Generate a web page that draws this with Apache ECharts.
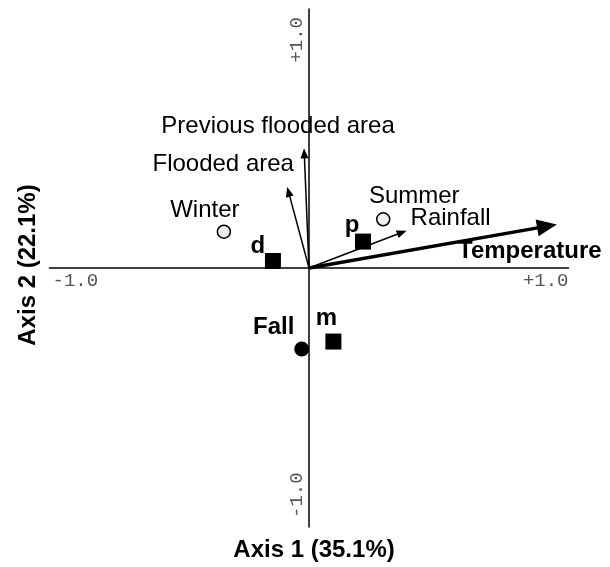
<!DOCTYPE html>
<html><head><meta charset="utf-8">
<script src="https://cdn.jsdelivr.net/npm/echarts@6/dist/echarts.min.js"></script>
<style>html,body{margin:0;padding:0;background:#fff}#c{width:610px;height:567px}</style>
</head><body><div id="c"></div>
<script>
// ---- data ----
const axisTitles = ['Axis 1 (35.1%)', 'Axis 2 (22.1%)'];
const tickValues = [-1, 1];
const tickLabels = ['-1.0', '+1.0'];

const siteNames = ['d', 'p', 'm'];
const siteX = [-0.139, 0.208, 0.094];
const siteY = [0.027, 0.102, -0.284];

const seasonNames = ['Winter', 'Summer', 'Fall'];
const seasonX = [-0.328, 0.286, -0.028];
const seasonY = [0.140, 0.188, -0.313];

const varNames = ['Temperature', 'Rainfall', 'Flooded area', 'Previous flooded area'];
const varX = [0.955, 0.376, -0.084, -0.019];
const varY = [0.168, 0.144, 0.313, 0.462];

// ---- styles ----
const SANS = '"Liberation Sans", Arial, Helvetica, sans-serif';
const MONO = '"Liberation Mono", "Courier New", monospace';
const FS = 24;
const siteLabelOffset = [[-15, -15], [-11, -16], [-7, -23]];
const seasonLabelOffset = [[-19, -21], [31, -23], [-28, -22]];
const seasonStyle = [
  {color: '#eeeeee', borderColor: '#000', borderWidth: 1.5, size: 13, bold: false},
  {color: '#eeeeee', borderColor: '#000', borderWidth: 1.5, size: 13, bold: false},
  {color: '#000', borderColor: '#000', borderWidth: 0, size: 15, bold: true}
];
const varLabelOffset = [[-27, 27], [44, -12], [-64, -23], [-26, -22]];
const varBold = [true, false, false, false];

const chart = echarts.init(document.getElementById('c'), null, {renderer: 'canvas'});

const option = {
  animation: false,
  backgroundColor: '#fff',
  grid: {left: 49.5, right: 41.5, top: 9, bottom: 40, containLabel: false},
  xAxis: {
    type: 'value', min: -1, max: 1,
    axisLine: {show: true, onZero: true, lineStyle: {color: '#000', width: 1.5}},
    axisTick: {show: false}, axisLabel: {show: false}, splitLine: {show: false}
  },
  yAxis: {
    type: 'value', min: -1, max: 1,
    axisLine: {show: true, onZero: true, lineStyle: {color: '#000', width: 1.5}},
    axisTick: {show: false}, axisLabel: {show: false}, splitLine: {show: false}
  },
  series: [
    {
      type: 'custom',
      coordinateSystem: 'cartesian2d',
      silent: true,
      data: varNames.map((n, i) => [varX[i], varY[i], i]),
      renderItem: function (params, api) {
        const i = api.value(2);
        const o = api.coord([0, 0]);
        const t = api.coord([api.value(0), api.value(1)]);
        const thick = varBold[i];
        const lw = thick ? 3.5 : 1.5;
        const hl = thick ? 20 : 10;
        const hw = thick ? 17 : 8;
        const dx = t[0] - o[0], dy = t[1] - o[1];
        const L = Math.sqrt(dx * dx + dy * dy);
        const ux = dx / L, uy = dy / L;
        const nx = -uy, ny = ux;
        const bx = t[0] - ux * hl, by = t[1] - uy * hl;
        const off = varLabelOffset[i];
        return {
          type: 'group',
          children: [
            {type: 'line', shape: {x1: o[0], y1: o[1], x2: bx + ux * 2, y2: by + uy * 2},
             style: {stroke: '#000', lineWidth: lw}},
            {type: 'polygon', shape: {points: [[t[0], t[1]], [bx + nx * hw / 2, by + ny * hw / 2], [bx - nx * hw / 2, by - ny * hw / 2]]},
             style: {fill: '#000'}},
            {type: 'text', x: t[0] + off[0], y: t[1] + off[1],
             style: {text: varNames[i], fill: '#000', align: 'center', verticalAlign: 'middle',
                     font: (thick ? 'bold ' : '') + FS + 'px ' + SANS}}
          ]
        };
      },
      z: 5
    },
    {
      type: 'scatter',
      symbol: 'rect',
      symbolSize: 16,
      silent: true,
      itemStyle: {color: '#000', opacity: 1},
      data: siteNames.map((n, i) => ({
        name: n, value: [siteX[i], siteY[i]],
        label: {offset: siteLabelOffset[i]}
      })),
      label: {
        show: true, position: 'inside', formatter: '{b}', color: '#000', opacity: 1,
        fontSize: FS, fontWeight: 'bold', fontFamily: SANS, textBorderWidth: 0,
        align: 'center', verticalAlign: 'middle'
      },
      z: 6
    },
    {
      type: 'scatter',
      symbol: 'circle',
      silent: true,
      data: seasonNames.map((n, i) => ({
        name: n, value: [seasonX[i], seasonY[i]],
        symbolSize: seasonStyle[i].size,
        itemStyle: {color: seasonStyle[i].color, borderColor: seasonStyle[i].borderColor, borderWidth: seasonStyle[i].borderWidth, opacity: 1},
        label: {offset: seasonLabelOffset[i], fontWeight: seasonStyle[i].bold ? 'bold' : 'normal'}
      })),
      label: {
        show: true, position: 'inside', formatter: '{b}', color: '#000', opacity: 1,
        fontSize: FS, fontFamily: SANS, textBorderWidth: 0,
        align: 'center', verticalAlign: 'middle'
      },
      z: 6
    }
  ]
};
chart.setOption(option);

// tick labels and axis titles placed through the axes' own scales
const pMin = chart.convertToPixel({gridIndex: 0}, [tickValues[0], tickValues[0]]);
const pMax = chart.convertToPixel({gridIndex: 0}, [tickValues[1], tickValues[1]]);
const pO = chart.convertToPixel({gridIndex: 0}, [0, 0]);
const tickFont = '19px ' + MONO;
const tickColor = '#555';
chart.setOption({
  graphic: [
    {type: 'text', x: pMin[0] + 3, y: pO[1] + 3,
     style: {text: tickLabels[0], font: tickFont, fill: tickColor, align: 'left', verticalAlign: 'top'}},
    {type: 'text', x: pMax[0], y: pO[1] + 3,
     style: {text: tickLabels[1], font: tickFont, fill: tickColor, align: 'right', verticalAlign: 'top'}},
    {type: 'text', x: pO[0] - 3, y: pMax[1] + 8, rotation: Math.PI / 2,
     style: {text: tickLabels[1], font: tickFont, fill: tickColor, align: 'right', verticalAlign: 'bottom'}},
    {type: 'text', x: pO[0] - 3, y: pMin[1] - 9, rotation: Math.PI / 2,
     style: {text: tickLabels[0], font: tickFont, fill: tickColor, align: 'left', verticalAlign: 'bottom'}},
    {type: 'text', x: pO[0] + 5, y: 550,
     style: {text: axisTitles[0], font: 'bold 24px ' + SANS, fill: '#000', align: 'center', verticalAlign: 'middle'}},
    {type: 'text', x: 28, y: pO[1] - 3, rotation: Math.PI / 2,
     style: {text: axisTitles[1], font: 'bold 24px ' + SANS, fill: '#000', align: 'center', verticalAlign: 'middle'}}
  ]
});
</script>
</body></html>
